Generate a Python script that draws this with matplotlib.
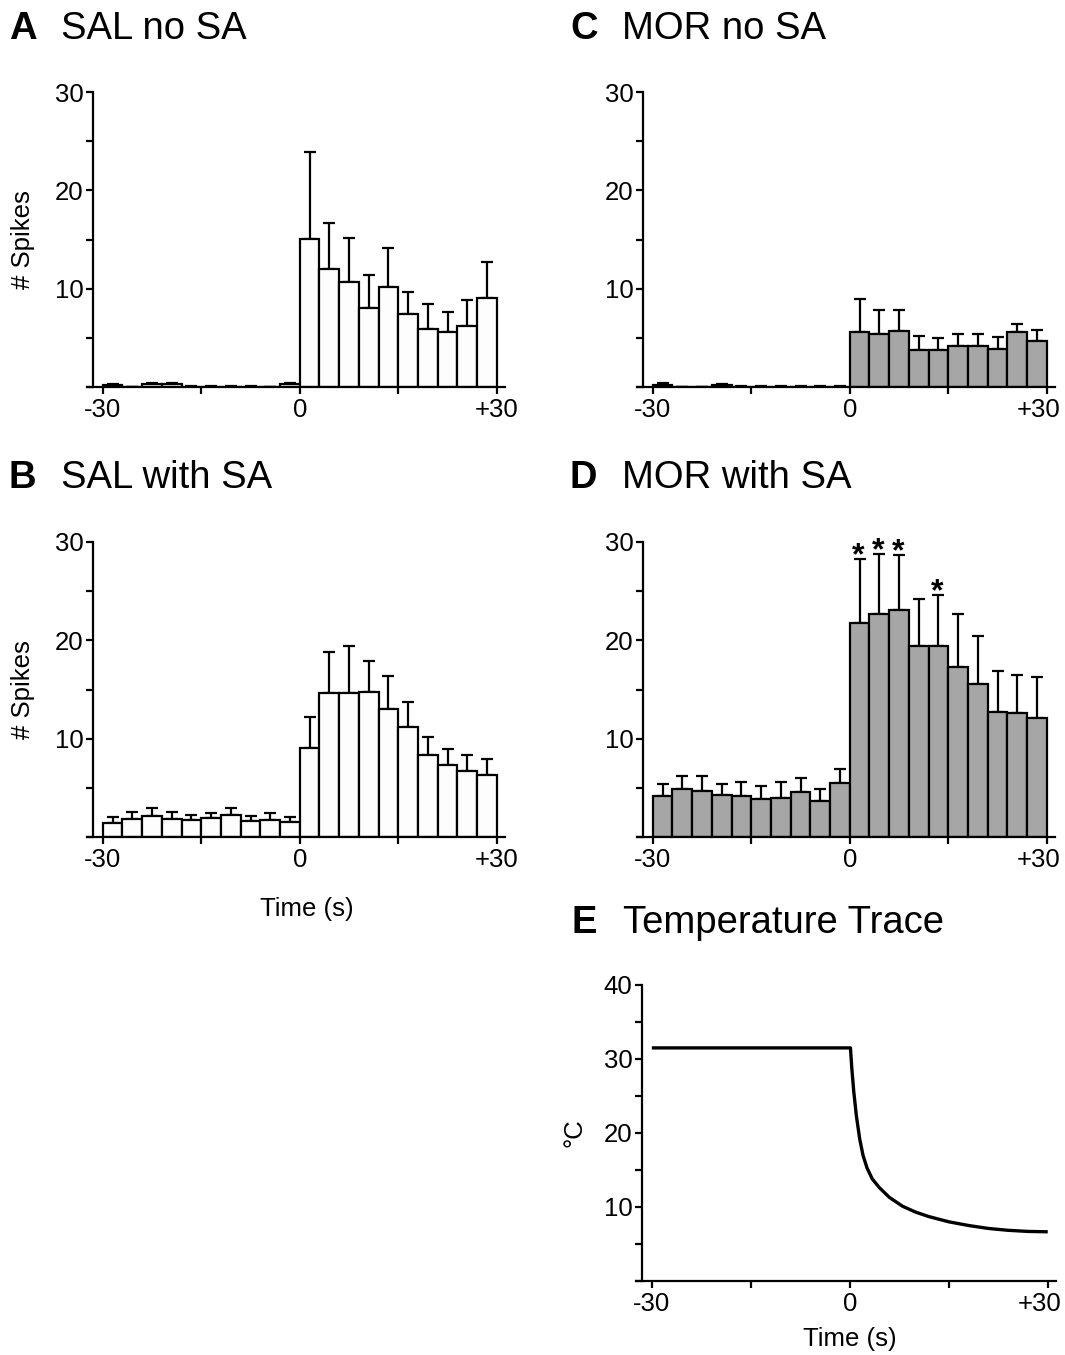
import numpy as np
import matplotlib
matplotlib.use("Agg")
import matplotlib.pyplot as plt
from matplotlib.transforms import ScaledTranslation

plt.rcParams['font.family'] = ['Liberation Sans', 'DejaVu Sans']

W, H = 1065, 1355

# left edges of the 3 s bins
time_bins = [-30, -27, -24, -21, -18, -15, -12, -9, -6, -3,
             0, 3, 6, 9, 12, 15, 18, 21, 24, 27]

# A: SAL no SA
sal_no_sa = [0.2, 0.0, 0.3, 0.3, 0.05, 0.05, 0.05, 0.05, 0.0, 0.3,
             15.1, 12.0, 10.7, 8.0, 10.2, 7.45, 5.9, 5.6, 6.2, 9.05]
sal_no_sa_err = [0.15, 0.0, 0.1, 0.1, 0.1, 0.1, 0.1, 0.1, 0.0, 0.15,
                 8.8, 4.7, 4.5, 3.4, 3.9, 2.2, 2.5, 2.05, 2.65, 3.65]

# B: SAL with SA
sal_sa = [1.43, 1.87, 2.18, 1.84, 1.77, 1.9, 2.24, 1.63, 1.77, 1.5,
          9.08, 14.6, 14.6, 14.7, 13.06, 11.16, 8.3, 7.3, 6.67, 6.3]
sal_sa_err = [0.57, 0.68, 0.72, 0.66, 0.51, 0.58, 0.66, 0.51, 0.68, 0.57,
              3.12, 4.2, 4.8, 3.2, 3.34, 2.54, 1.9, 1.7, 1.63, 1.66]

# C: MOR no SA
mor_no_sa = [0.25, 0.0, 0.0, 0.2, 0.05, 0.05, 0.05, 0.05, 0.05, 0.05,
             5.6, 5.37, 5.7, 3.74, 3.74, 4.2, 4.2, 3.84, 5.6, 4.7]
mor_no_sa_err = [0.12, 0.0, 0.0, 0.08, 0.1, 0.1, 0.1, 0.1, 0.1, 0.1,
                 3.3, 2.45, 2.1, 1.46, 1.26, 1.24, 1.24, 1.23, 0.8, 1.08]

# D: MOR with SA
mor_sa = [4.2, 4.86, 4.7, 4.29, 4.2, 3.88, 3.98, 4.56, 3.67, 5.48,
          21.8, 22.65, 23.1, 19.4, 19.4, 17.3, 15.6, 12.7, 12.65, 12.1]
mor_sa_err = [1.24, 1.34, 1.46, 1.15, 1.38, 1.29, 1.6, 1.43, 1.26, 1.46,
              6.5, 6.15, 5.6, 4.85, 5.2, 5.35, 4.8, 4.2, 3.85, 4.16]
mor_sa_sig = [10, 11, 12, 14]   # bins marked with *

# E: temperature trace
temp_t = [-30, 0.1, 0.3, 0.6, 1.0, 1.5, 2.0, 2.6, 3.4, 4.5, 6.0, 8.0,
          10.0, 12.0, 15.0, 18.0, 21.0, 24.0, 27.0, 30.0]
temp_c = [31.5, 31.5, 28.8, 25.6, 22.3, 19.2, 17.0, 15.3, 13.8, 12.6, 11.3, 10.1,
          9.3, 8.7, 8.0, 7.5, 7.1, 6.85, 6.7, 6.65]

FS_TICK = 18.5
FS_LABEL = 18.5
FS_TITLE = 27.5


def px_axes(l, r, b, t):
    return [l / W, 1 - b / H, (r - l) / W, (b - t) / H]


def style_axes(ax, ymax, ylabels):
    ax.set_xlim(-32.4, 31.25)
    ax.set_ylim(0, ymax)
    for s in ['top', 'right']:
        ax.spines[s].set_visible(False)
    ax.spines['left'].set_position(('data', -31.45))
    for s in ['left', 'bottom']:
        ax.spines[s].set_linewidth(1.6)
    ax.set_xticks([-30, -15, 0, 15, 30])
    ax.set_xticklabels(['-30', '', '0', '', '+30'])
    ax.set_yticks(np.arange(0, ymax + 1, 5))
    ax.set_yticklabels(ylabels)
    ax.tick_params(width=1.6, length=5, labelsize=FS_TICK)
    ax.tick_params(axis='x', pad=3)
    ax.tick_params(axis='y', pad=2)


def spike_panel(ax, vals, errs, color):
    x = np.array(time_bins)
    ax.bar(x, vals, width=3, align='edge', color=color, edgecolor='black',
           linewidth=1.6, zorder=2)
    ax.errorbar(x + 1.5, vals, yerr=[np.zeros(len(errs)), errs], fmt='none',
                ecolor='black', elinewidth=1.6, capsize=4, capthick=1.6, zorder=1)
    style_axes(ax, 30, ['', '', '10', '', '20', '', '30'])


fig = plt.figure(figsize=(W / 100, H / 100), dpi=100)

ax_a = fig.add_axes(px_axes(87, 505, 387, 92))
ax_b = fig.add_axes(px_axes(87, 505, 837, 542))
ax_c = fig.add_axes(px_axes(637, 1055, 387, 92))
ax_d = fig.add_axes(px_axes(637, 1055, 837, 542))
ax_e = fig.add_axes(px_axes(636, 1056, 1281, 985))

white = '#fdfdfd'
grey = '#a6a6a6'
spike_panel(ax_a, sal_no_sa, sal_no_sa_err, white)
spike_panel(ax_b, sal_sa, sal_sa_err, white)
spike_panel(ax_c, mor_no_sa, mor_no_sa_err, grey)
spike_panel(ax_d, mor_sa, mor_sa_err, grey)

for i in mor_sa_sig:
    ax_d.text(time_bins[i] + 1.3, mor_sa[i] + mor_sa_err[i] + 0.3, '*',
              ha='center', va='center', fontsize=23, fontweight='bold')

ax_e.plot(temp_t, temp_c, color='black', linewidth=2.4,
          solid_joinstyle='round', solid_capstyle='butt')
style_axes(ax_e, 40, ['', '', '10', '', '20', '', '30', '', '40'])

# right-hand "+30" labels sit inside the figure edge
for ax in (ax_c, ax_d, ax_e):
    lbl = ax.xaxis.get_major_ticks()[-1].label1
    lbl.set_horizontalalignment('right')
    lbl.set_transform(lbl.get_transform() + ScaledTranslation(0.14, 0, fig.dpi_scale_trans))

# labels
for ax in (ax_a, ax_b):
    ax.set_ylabel('# Spikes', fontsize=FS_LABEL)
    ax.yaxis.set_label_coords(-0.125, 0.5)
ax_b.set_xlabel('Time (s)', fontsize=FS_LABEL)
ax_b.xaxis.set_label_coords(0.526, -0.205)
ax_e.set_xlabel('Time (s)', fontsize=FS_LABEL)
ax_e.xaxis.set_label_coords(0.51, -0.155)
ax_e.set_ylabel('°C', fontsize=FS_LABEL)
ax_e.yaxis.set_label_coords(-0.118, 0.5)

titles = [('A', 'SAL no SA', 9, 29), ('B', 'SAL with SA', 9, 478),
          ('C', 'MOR no SA', 570, 29), ('D', 'MOR with SA', 570, 478),
          ('E', 'Temperature Trace', 571, 923)]
for letter, name, x, y in titles:
    fig.text(x / W, 1 - y / H, letter, fontsize=FS_TITLE, fontweight='bold',
             ha='left', va='center')
    fig.text((x + 52) / W, 1 - y / H, name, fontsize=FS_TITLE, ha='left', va='center')

fig.savefig('out.png', dpi=100)
